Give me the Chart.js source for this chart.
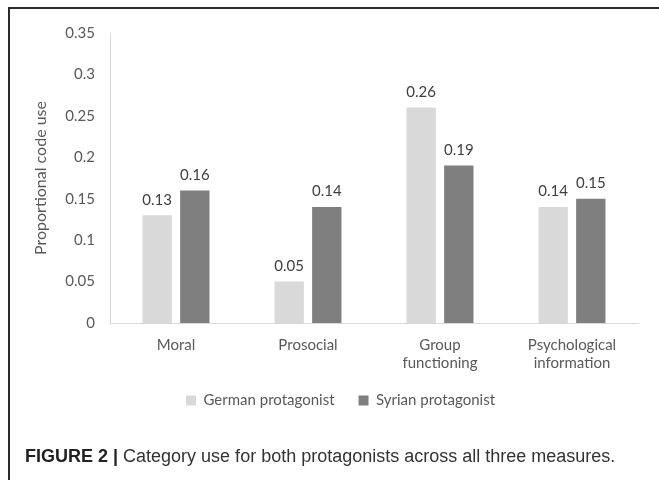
<!DOCTYPE html>
<html>
    <head>
        <meta charset="utf-8">
        <title>Category use</title>
        <script src="https://cdn.jsdelivr.net/npm/chart.js@4.4.0/dist/chart.umd.min.js"></script>
        <style>
            body { margin: 0; background: #fff; }
            #wrap { position: relative; width: 659px; height: 480px; overflow: hidden; }
            #frame { position: absolute; left: 8px; top: 7px; width: 700px; height: 500px;
                     border-left: 2px solid #2b2b2b; border-top: 2px solid #2b2b2b; }
            #chart { position: absolute; left: 0; top: 0; }
            #caption { position: absolute; left: 25px; top: 446px; font-family: "Liberation Sans", Arial, sans-serif;
                       font-size: 18px; color: #333; white-space: nowrap; }
            #caption b { color: #222; }
        </style>
    </head>
    <body>
        <div id="wrap">
            <div id="frame"></div>
            <canvas id="chart" width="659" height="480"></canvas>
            <div id="caption"><b>FIGURE 2 |</b> Category use for both protagonists across all three measures.</div>
        </div>

        <script>
            const categories = ['Moral', 'Prosocial', ['Group', 'functioning'], ['Psychological', 'information']]
            const german = [0.13, 0.05, 0.26, 0.14]
            const syrian = [0.16, 0.14, 0.19, 0.15]
            const yTicks = [0, 0.05, 0.1, 0.15, 0.2, 0.25, 0.3, 0.35]

            const font = 'Lato'

            // value labels above each bar
            const barLabels = {
                id: 'barLabels',
                afterDatasetsDraw(chart) {
                    const ctx = chart.ctx
                    ctx.save()
                    ctx.font = '15px ' + font
                    ctx.fillStyle = '#404040'
                    ctx.textAlign = 'center'
                    ctx.textBaseline = 'bottom'
                    chart.data.datasets.forEach((ds, i) => {
                        chart.getDatasetMeta(i).data.forEach((bar, j) => {
                            ctx.fillText(ds.data[j].toFixed(2), bar.x, bar.y - 8)
                        })
                    })
                    ctx.restore()
                }
            }

            // pull the legend a bit closer to the axis labels (keeps wide item spacing)
            const legendNudge = {
                id: 'legendNudge',
                afterUpdate(chart) {
                    const lg = chart.legend
                    lg.top -= 16
                    lg.bottom -= 16
                    lg.left += 6
                    lg.right += 6
                }
            }

            const ctx = document.getElementById('chart').getContext('2d')
            const myChart = new Chart(ctx, {
                type: 'bar',
                data: {
                    labels: categories,
                    datasets: [
                        { label: 'German protagonist', data: german, backgroundColor: '#d9d9d9' },
                        { label: 'Syrian protagonist', data: syrian, backgroundColor: '#7f7f7f' }
                    ]
                },
                options: {
                    responsive: false,
                    animation: false,
                    categoryPercentage: 0.57,
                    barPercentage: 0.78,
                    layout: { padding: { left: 31, right: 21, top: 33, bottom: 46 } },
                    plugins: {
                        tooltip: { enabled: false },
                        legend: {
                            position: 'bottom',
                            labels: {
                                boxWidth: 10, boxHeight: 10, padding: 24,
                                color: '#595959', font: { family: font, size: 15 }
                            }
                        }
                    },
                    scales: {
                        x: {
                            grid: { display: false, drawTicks: false },
                            border: { color: '#d9d9d9' },
                            ticks: {
                                color: '#595959', padding: 13, maxRotation: 0,
                                font: { family: font, size: 15, lineHeight: 1.2 }
                            }
                        },
                        y: {
                            min: 0, max: 0.35,
                            afterBuildTicks: scale => { scale.ticks = yTicks.map(v => ({ value: v })) },
                            afterFit: scale => { scale.width = 79 },
                            grid: { display: false, drawTicks: false },
                            border: { color: '#d9d9d9' },
                            title: {
                                display: true, text: 'Proportional code use', color: '#595959',
                                font: { family: font, size: 16 }, padding: 0
                            },
                            ticks: {
                                color: '#595959', padding: 15,
                                font: { family: font, size: 15 },
                                callback: v => String(v)
                            }
                        }
                    }
                },
                plugins: [barLabels, legendNudge]
            })
        </script>
    </body>
</html>
